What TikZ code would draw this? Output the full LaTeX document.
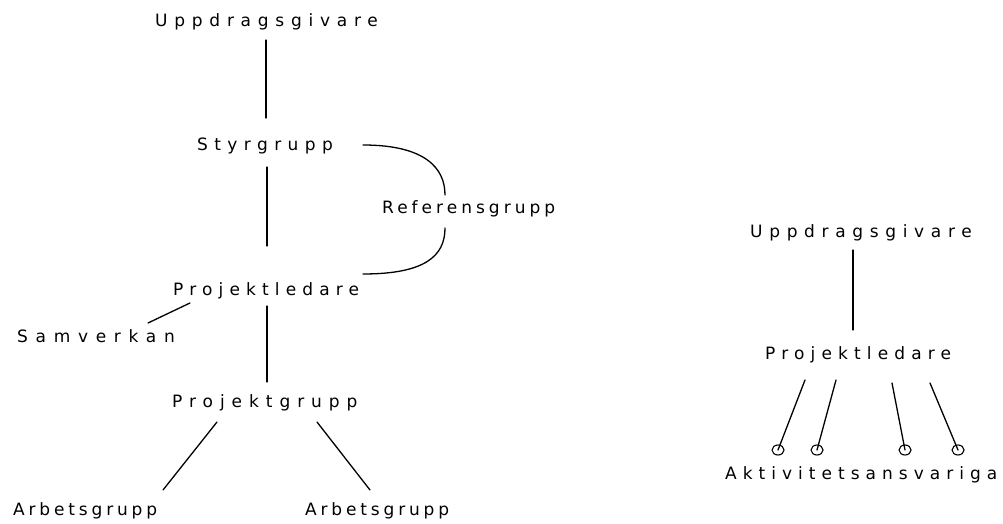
\documentclass[tikz,border=0pt]{standalone}
\usepackage{fontspec}
\newfontfamily\lbfont{DejaVu Sans}
\begin{document}
\begin{tikzpicture}[x=1pt,y=-1pt,
  lbl/.style={font=\lbfont\fontsize{17}{19}\selectfont\addfontfeatures{LetterSpace=#1}, inner sep=0pt, anchor=base west},
  conn/.style={line width=1.3pt, line cap=round}]
\useasboundingbox (0,0) rectangle (1003,524);
% left tree
\node[lbl=39.7] (u1) at (155,27) {Uppdragsgivare};
\node[lbl=37.8] (s1) at (197,150) {Styrgrupp};
\node[lbl=23.6] (r1) at (382,213) {Referensgrupp};
\node[lbl=36.2] (p1) at (173,295) {Projektledare};
\node[lbl=45.3] (sv) at (17,342) {Samverkan};
\node[lbl=40.9] (pg) at (172,407) {Projektgrupp};
\node[lbl=22.6] (a1) at (13,515) {Arbetsgrupp};
\node[lbl=22.6] (a2) at (305,515) {Arbetsgrupp};
\draw[conn] ([shift={(111,13)}]u1.base west) -- ([shift={(111,-32)}]s1.base west -| u1.base west);
\draw[conn] ([shift={(70,17)}]s1.base west) -- ([shift={(94,-49)}]p1.base west);
\draw[conn] ([shift={(94,11)}]p1.base west) -- ([shift={(95,-25)}]pg.base west);
\draw[conn] ([shift={(131,-19)}]sv.base west) -- ([shift={(17,8)}]p1.base west);
\draw[conn] ([shift={(45,15)}]pg.base west) -- ([shift={(150,-25)}]a1.base west);
\draw[conn] ([shift={(145,15)}]pg.base west) -- ([shift={(65,-25)}]a2.base west);
\coordinate (c1) at ([shift={(166,-5)}]s1.base west);
\coordinate (c2) at ([shift={(63,-18)}]r1.base west);
\coordinate (c3) at ([shift={(63,15)}]r1.base west);
\coordinate (c4) at ([shift={(190,-21)}]p1.base west);
\draw[conn] (c1) .. controls (425,145) and (445,168) .. (c2);
\draw[conn] (c3) .. controls (445,256) and (425,274) .. (c4);
% right tree
\node[lbl=39.2] (u2) at (750,237) {Uppdragsgivare};
\node[lbl=36.2] (p2) at (765,359) {Projektledare};
\node[lbl=35.4] (ak) at (725,479) {Aktivitetsansvariga};
\draw[conn] ([shift={(103,13)}]u2.base west) -- ([shift={(88,-29)}]p2.base west);
\coordinate (k1) at (778,450);
\coordinate (k2) at (817,450);
\coordinate (k3) at (905,450);
\coordinate (k4) at (958,450);
\foreach \k in {k1,k2,k3,k4} \draw[line width=1.1pt] (\k) ellipse (6pt and 5pt);
\draw[conn] ([shift={(40,21)}]p2.base west) -- (k1);
\draw[conn] ([shift={(71,21)}]p2.base west) -- (k2);
\draw[conn] ([shift={(127,24)}]p2.base west) -- (k3);
\draw[conn] ([shift={(165,24)}]p2.base west) -- (k4);
\end{tikzpicture}
\end{document}
